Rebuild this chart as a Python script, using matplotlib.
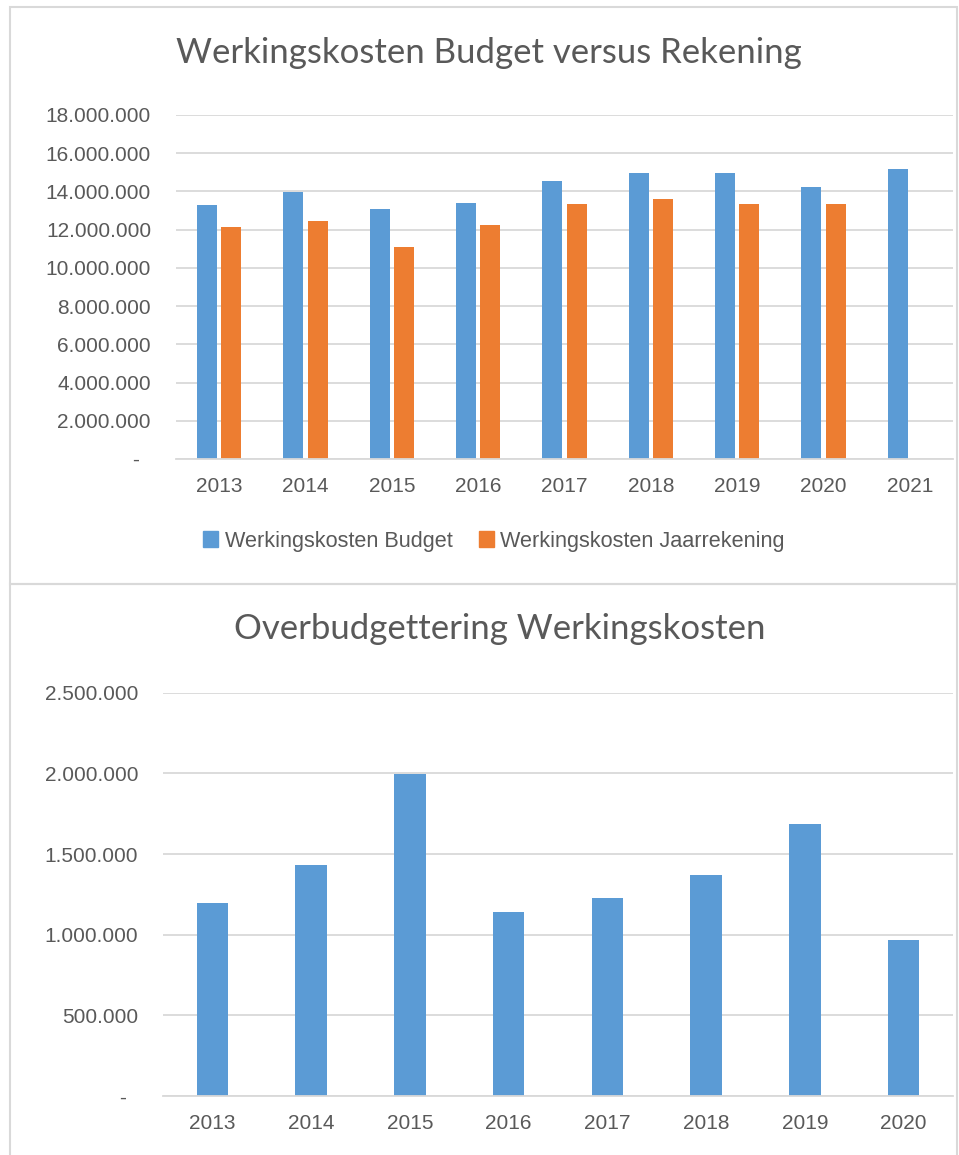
import numpy as np
import matplotlib.pyplot as plt
from matplotlib.patches import Rectangle, Patch
from matplotlib.ticker import FuncFormatter, MultipleLocator

plt.rcParams['font.family'] = ['Liberation Sans', 'DejaVu Sans']

# data
years_top = ["2013", "2014", "2015", "2016", "2017", "2018", "2019", "2020", "2021"]
budget = [13300000, 13950000, 13100000, 13410000, 14560000, 14970000, 14970000, 14240000, 15180000]
jaarrekening = [12160000, 12470000, 11100000, 12260000, 13320000, 13620000, 13320000, 13320000]

years_bottom = ["2013", "2014", "2015", "2016", "2017", "2018", "2019", "2020"]
overbudget = [1199000, 1435000, 1995000, 1139000, 1225000, 1373000, 1683000, 965000]

BLUE = "#5B9BD5"
ORANGE = "#ED7D31"
GRID = "#D9D9D9"
TXT = "#595959"
W, H = 959, 1155


def nl_fmt(v, pos):
    if v == 0:
        return "-  "
    return f"{int(round(v)):,}".replace(",", ".")


def style(ax, ymax, step, pad):
    ax.set_ylim(0, ymax)
    ax.yaxis.set_major_locator(MultipleLocator(step))
    ax.yaxis.set_major_formatter(FuncFormatter(nl_fmt))
    ax.grid(axis="y", color=GRID, linewidth=1.3)
    ax.set_axisbelow(True)
    for s in ["top", "right", "left"]:
        ax.spines[s].set_visible(False)
    ax.spines["bottom"].set_color(GRID)
    ax.spines["bottom"].set_linewidth(1.3)
    ax.tick_params(length=0, labelsize=15, colors=TXT)
    ax.tick_params(axis="y", pad=pad)
    ax.tick_params(axis="x", pad=13)


fig = plt.figure(figsize=(W / 100, H / 100), dpi=100)

# panel borders
fig.add_artist(Rectangle((9.5 / W, 1 - 584 / H), (957 - 9.5) / W, (584 - 6.5) / H,
                         transform=fig.transFigure, fill=False, edgecolor=GRID, linewidth=1.5))
fig.add_artist(Rectangle((9.5 / W, -0.01), (957 - 9.5) / W, 0.01 + (1155 - 584) / H,
                         transform=fig.transFigure, fill=False, edgecolor=GRID, linewidth=1.5))

# top chart
ax1 = fig.add_axes([176 / W, 1 - 459 / H, (953 - 176) / W, (459 - 115) / H])
x1 = np.arange(len(years_top))
bw = 0.23
ax1.bar(x1 - 0.14, budget, bw, color=BLUE)
ax1.bar(x1[:len(jaarrekening)] + 0.14, jaarrekening, bw, color=ORANGE)
ax1.set_xlim(-0.5, len(years_top) - 0.5)
ax1.set_xticks(x1, years_top)
style(ax1, 18000000, 2000000, 18)

fig.text(0.51, 1 - 63 / H, "Werkingskosten Budget versus Rekening", ha="center", va="baseline",
         fontsize=25, color=TXT, family=["Lato", "DejaVu Sans"])

handles = [Patch(color=BLUE, label="Werkingskosten Budget"),
           Patch(color=ORANGE, label="Werkingskosten Jaarrekening")]
fig.legend(handles=handles, loc="center", bbox_to_anchor=(0.515, 1 - 541 / H), ncol=2,
           frameon=False, fontsize=15.6, labelcolor=TXT, handlelength=0.7, handleheight=0.7,
           handletextpad=0.3, columnspacing=1.2)

# bottom chart
ax2 = fig.add_axes([163 / W, 1 - 1096 / H, (953 - 163) / W, (1096 - 692.7) / H])
x2 = np.arange(len(years_bottom))
ax2.bar(x2, overbudget, 0.32, color=BLUE)
ax2.set_xlim(-0.5, len(years_bottom) - 0.5)
ax2.set_xticks(x2, years_bottom)
style(ax2, 2500000, 500000, 18)

fig.text(0.521, 1 - 639 / H, "Overbudgettering Werkingskosten", ha="center", va="baseline",
         fontsize=25, color=TXT, family=["Lato", "DejaVu Sans"])

fig.savefig("out.png", dpi=100)
